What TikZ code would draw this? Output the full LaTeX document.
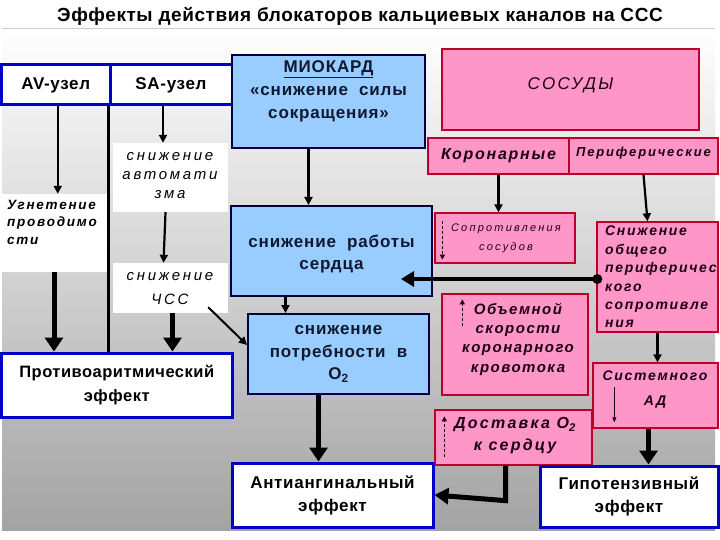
\documentclass[tikz,border=0pt]{standalone}
\usepackage{fontspec}
\setmainfont{Liberation Sans}
\usetikzlibrary{arrows.meta,calc}
\definecolor{wborder}{RGB}{0,0,200}
\definecolor{mborder}{RGB}{0,0,64}
\definecolor{lblue}{RGB}{153,204,255}
\definecolor{pinkf}{RGB}{255,150,200}
\definecolor{pborder}{RGB}{190,0,40}
\definecolor{navytext}{RGB}{16,24,48}
\definecolor{pinktext}{RGB}{30,0,20}
\newcommand{\myfs}[2]{\fontsize{#1}{#2}\selectfont}
\newcommand{\myls}[1]{\addfontfeatures{LetterSpace=#1}}
\begin{document}
\begin{tikzpicture}[x=1pt,y=-1pt,
  wbox/.style={draw=wborder, line width=3pt, fill=white, inner sep=0pt, text=black, font=\bfseries\myfs{17}{23}\myls{4}, align=center},
  mbox/.style={draw=mborder, line width=2pt, fill=lblue, inner sep=0pt},
  pbox/.style={draw=pborder, line width=1.3pt, fill=pinkf, inner sep=0pt},
  wpatch/.style={fill=white, inner sep=0pt},
  mtxt/.style={align=center, inner sep=0pt, text=navytext, font=\bfseries\myfs{17}{22}\myls{5}},
  ptxt/.style={align=center, inner sep=0pt, text=pinktext},
  thinarr/.style={line width=2.2pt, -{Triangle[length=8pt,width=8pt]}},
  thickarr/.style={line width=5pt, -{Triangle[length=14pt,width=18pt]}},
  dasharr/.style={line width=1.3pt, densely dashed, pinktext, -{Triangle[length=5pt,width=5pt]}},
]
\useasboundingbox (0,0) rectangle (720,540);
\fill[white] (0,0) rectangle (720,540);
\shade[top color=white, middle color=gray!30, bottom color=gray!72] (2,28) rectangle (715,530);
\draw[gray!40, line width=0.6pt] (2,28) -- (715,28);

\node[font=\bfseries\myfs{19}{21}\myls{3}] (title) at (360,16) {Эффекты действия блокаторов кальциевых каналов на ССС};

% white patches in left columns
\node[wpatch, minimum width=108, minimum height=78] (ugn) at (54,233) {};
\node[wpatch, minimum width=115, minimum height=69] (avt) at (170.5,177.5) {};
\node[wpatch, minimum width=115, minimum height=50] (chss) at (170.5,288) {};

% top left boxes
\node[wbox, minimum width=108.5, minimum height=40] (av) at (55.75,85) {AV-узел};
\node[wbox, minimum width=122, minimum height=40] (sa) at (171,85) {SA-узел};

% separator
\draw[line width=3pt] (sa.south west) -- (sa.south west |- 0,352);

% blue boxes
\node[mbox, minimum width=193, minimum height=93] (myo) at (328.5,101.5) {};
\node[mtxt, font=\bfseries\myfs{17}{23}\myls{5}] (myot) at (328.5,91) {\underline{МИОКАРД}\\«снижение\ \ силы\\сокращения»};
\node[mbox, minimum width=201, minimum height=90] (rab) at (331.5,251) {};
\node[mtxt] (rabt) at (331.5,254) {снижение\ \ работы\\сердца};
\node[mbox, minimum width=181, minimum height=80] (potr) at (338.5,354) {};
\node[mtxt, font=\bfseries\myfs{17}{22.5}\myls{5}] (potrt) at (338.5,354) {снижение\\потребности\ \ в\\O\textsubscript{2}};

% pink boxes
\node[pbox, minimum width=257, minimum height=81] (sos) at (570.5,89.5) {};
\node[ptxt, font=\itshape\myfs{17}{20}\myls{14}] (sost) at (570.5,85) {СОСУДЫ};
\node[pbox, minimum width=141, minimum height=36] (kor) at (498.5,156) {};
\node[ptxt, font=\bfseries\itshape\myfs{16}{18}\myls{11}] (kort) at (498.5,156) {Коронарные};
\node[pbox, minimum width=149, minimum height=36] (per) at (643.5,156) {};
\node[ptxt, font=\bfseries\itshape\myfs{13}{15}\myls{14}] (pert) at (643.5,153) {Периферические};
\node[pbox, minimum width=140, minimum height=50] (sopr) at (505,238) {};
\node[ptxt, font=\itshape\myfs{11}{19}\myls{20}] (soprt) at (506,238) {Сопротивления\\сосудов};
\node[pbox, minimum width=121, minimum height=110] (obsh) at (657.5,277) {};
\node[ptxt, align=left, anchor=north west, font=\bfseries\itshape\myfs{14}{18.4}\myls{12}] (obsht) at (605,226) {Снижение\\общего\\периферичес\\кого\\сопротивле\\ния};
\node[pbox, minimum width=146, minimum height=101] (obem) at (515,344.5) {};
\node[ptxt, font=\bfseries\itshape\myfs{15}{19.3}\myls{10}] (obemt) at (518,339) {Объемной\\скорости\\коронарного\\кровотока};
\node[pbox, minimum width=125, minimum height=65] (sist) at (655.5,395.5) {};
\node[ptxt, font=\bfseries\itshape\myfs{14}{25}\myls{12}] (sistt) at (655,390) {Системного\\АД};
\node[pbox, minimum width=157, minimum height=55] (dost) at (513.5,437.5) {};
\node[ptxt, font=\bfseries\itshape\myfs{16}{22}\myls{14}] (dostt) at (515,436) {Доставка O\textsubscript{2}\\к сердцу};

% left column texts
\node[ptxt, text=black, align=left, anchor=north west, font=\bfseries\itshape\myfs{13.5}{17.5}\myls{13}] (ugnt) at (7,200) {Угнетение\\проводимо\\сти};
\node[ptxt, text=black, font=\itshape\myfs{15}{19}\myls{18}] (avtt) at (170,176) {снижение\\автомати\\зма};
\node[ptxt, text=black, font=\itshape\myfs{15}{24}\myls{18}] (chsst) at (170,289) {снижение\\ЧСС};

% effect boxes
\node[wbox, minimum width=230.5, minimum height=64, font=\bfseries\myfs{16.5}{24}\myls{3}] (prot) at (116.75,385) {Противоаритмический\\эффект};
\node[wbox, minimum width=201, minimum height=64] (anti) at (332.5,495) {Антиангинальный\\эффект};
\node[wbox, minimum width=178, minimum height=61] (gipo) at (629,496.5) {Гипотензивный\\эффект};

% arrows left
\draw[thinarr] ($(av.south)+(2,0)$) -- ($(av.south |- ugn.north)+(2,0)$);
\draw[thickarr] (ugn.south) -- (ugn.south |- prot.north);
\draw[thinarr] ($(sa.south)+(-8,0)$) -- ($(sa.south |- avt.north)+(-8,0)$);
\draw[thinarr] ($(avt.south)+(-5,0)$) -- ($(chss.north)+(-7,0)$);
\draw[thickarr] ($(chss.south)+(2,0)$) -- ($(chss.south |- prot.north)+(2,0)$);
\draw[line width=2pt, -{Triangle[length=8pt,width=8pt]}] ($(chss.south east)+(-20,-6)$) -- ($(potr.west)+(0,-9)$);

% middle arrows
\draw[thinarr] ($(myo.south)+(-20,0)$) -- ($(myo.south |- rab.north)+(-20,0)$);
\draw[thinarr] ($(rab.south)+(-46,0)$) -- ($(rab.south |- potr.north)+(-46,0)$);
\draw[thickarr] ($(potr.south)+(-20,0)$) -- ($(potr.south |- anti.north)+(-20,0)$);

% right arrows
\draw[thinarr] (kor.south) -- (kor.south |- sopr.north);
\draw[thinarr] (per.south) -- ($(obsh.north)+(-10,0)$);
\draw[thinarr] (obsh.south) -- (obsh.south |- sist.north);
\draw[thickarr] ($(sist.south)+(-7,0)$) -- ($(sist.south |- gipo.north)+(-7,0)$);
\node[circle, fill=black, inner sep=0pt, minimum size=10pt] (dot) at ($(obsh.west)+(1,2)$) {};
\draw[line width=4pt, -{Triangle[length=13pt,width=15pt]}] (dot.center) -- ($(rab.east |- dot)+(-32,0)$);
\draw[line width=5pt, -{Triangle[length=14pt,width=16pt]}] ($(dost.south)+(-8,0)$) -- ($(dost.south)+(-8,35)$) -- (anti.east);

% small arrows inside pink boxes
\draw[dasharr] ($(sopr.north west)+(8,9)$) -- ($(sopr.south west)+(8,-4)$);
\draw[dasharr] ($(obem.north west)+(21,33)$) -- ($(obem.north west)+(21,6)$);
\draw[dasharr] ($(dost.north west)+(10,48)$) -- ($(dost.north west)+(10,7)$);
\draw[line width=1pt, pinktext, -{Triangle[length=5pt,width=4pt]}] ($(sist.north west)+(22,25)$) -- ($(sist.north west)+(22,60)$);
\end{tikzpicture}
\end{document}
